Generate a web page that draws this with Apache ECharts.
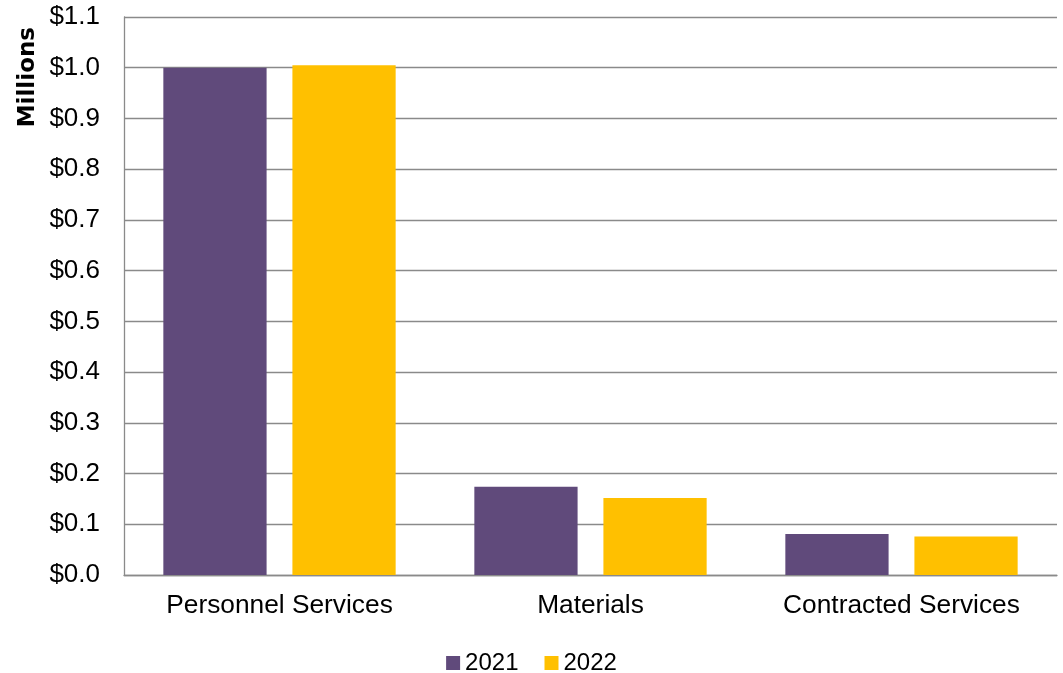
<!DOCTYPE html>
<html>
<head>
<meta charset="utf-8">
<script src="https://cdn.jsdelivr.net/npm/echarts@6/dist/echarts.min.js"></script>
<style>
html,body{margin:0;padding:0;background:#fff;}
#chart{width:1063px;height:673px;}
</style>
</head>
<body>
<div id="chart"></div>
<script>
const categories = ["Personnel Services", "Materials", "Contracted Services"];
const values2021 = [1.000, 0.174, 0.081];
const values2022 = [1.005, 0.152, 0.076];
const seriesNames = ["2021", "2022"];
const axisTitle = "Millions";

const chart = echarts.init(document.getElementById('chart'), null, {renderer: 'canvas'});
const font = '"Liberation Sans", Arial, sans-serif';
chart.setOption({
  animation: false,
  textStyle: {fontFamily: font},
  grid: {left: 124, right: 6, top: 17, bottom: 98, containLabel: false},
  legend: {
    top: 646, left: 'center',
    itemWidth: 14, itemHeight: 14, itemGap: 26,
    icon: 'rect',
    textStyle: {fontSize: 24, color: '#000', fontFamily: font},
    data: seriesNames
  },
  graphic: [{
    type: 'text', left: 17, top: 27, rotation: Math.PI / 2,
    style: {text: axisTitle, font: 'bold 23px "DejaVu Sans", sans-serif', fill: '#000'}
  }],
  xAxis: {
    type: 'category', data: categories,
    axisLine: {show: true, lineStyle: {color: '#8a8a8a', width: 1.3}},
    axisTick: {show: false},
    axisLabel: {fontSize: 26.3, color: '#000', margin: 18, fontFamily: font}
  },
  yAxis: {
    type: 'value', min: 0, max: 1.1, interval: 0.1,
    axisLine: {show: true, lineStyle: {color: '#8a8a8a', width: 1.3}},
    axisTick: {show: false},
    splitLine: {show: true, lineStyle: {color: '#8a8a8a', width: 1.3}},
    axisLabel: {fontSize: 26, color: '#000', margin: 24, fontFamily: font,
      formatter: v => '$' + v.toFixed(1)}
  },
  series: [
    {name: seriesNames[0], type: 'bar', data: values2021, barWidth: '33.2%', barGap: '25%',
      itemStyle: {color: '#604A7B'}},
    {name: seriesNames[1], type: 'bar', data: values2022, barWidth: '33.2%',
      itemStyle: {color: '#FFC000'}}
  ]
});
</script>
</body>
</html>
